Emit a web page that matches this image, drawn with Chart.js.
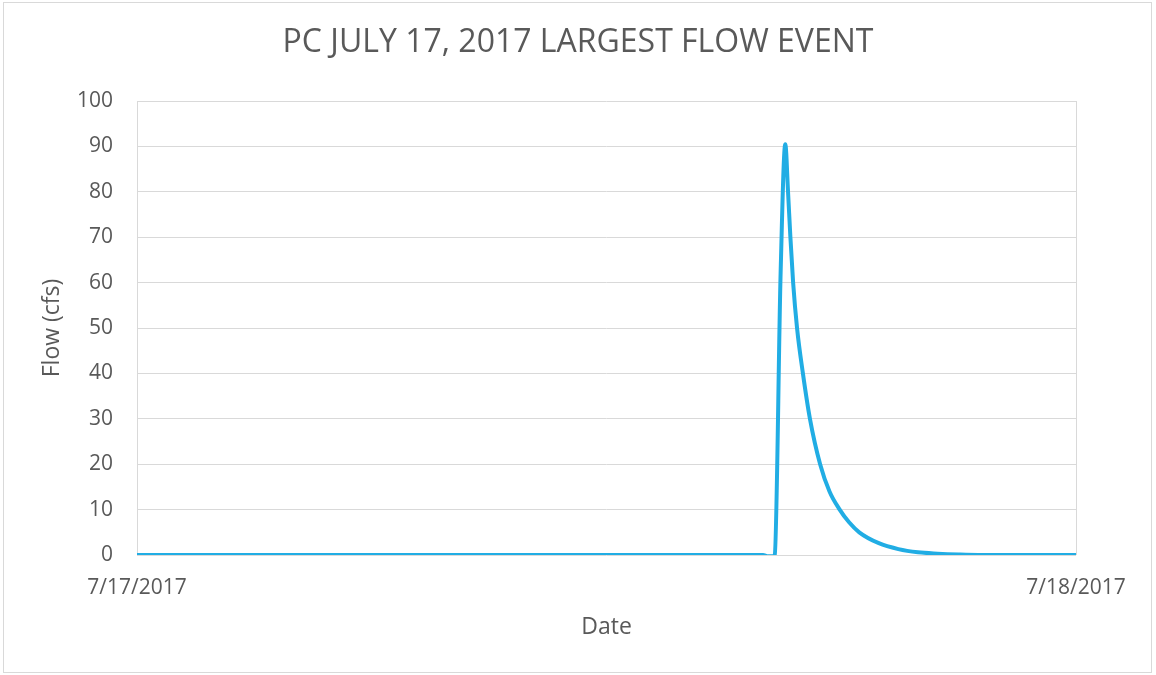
<!DOCTYPE html>
<html>
<head>
<meta charset="utf-8">
<script src="https://cdn.jsdelivr.net/npm/chart.js@4.4.0/dist/chart.umd.min.js"></script>
<style>
  html, body { margin: 0; padding: 0; background: #fff; }
  #wrap { position: absolute; left: 0; top: 0; width: 1156px; height: 675px; }
</style>
</head>
<body>
<div id="wrap"><canvas id="flow-chart" width="1156" height="675"></canvas></div>
<script>
// hours after midnight on 7/17/2017
var hours = [0, 16.0, 16.12, 16.26, 16.30, 16.45, 16.57, 16.64, 16.70, 16.77, 16.87, 17.02, 17.20, 17.46, 17.70, 17.96, 18.20, 18.46, 18.96, 19.46, 19.96, 20.46, 21.0, 21.5, 24];
// flow in cfs
var flows = [0, 0, -0.3, -0.3, 0, 62, 90.5, 80, 70, 60, 50, 40, 30, 20, 14, 10, 7.2, 5, 2.6, 1.3, 0.6, 0.3, 0.1, 0, 0];
var dateLabels = ['7/17/2017', '7/18/2017'];
var yTicks = [0, 10, 20, 30, 40, 50, 60, 70, 80, 90, 100];

var points = hours.map(function (h, i) { return { x: h, y: flows[i] }; });

// light border round the whole chart
var borderPlugin = {
  id: 'outerBorder',
  beforeDraw: function (chart) {
    var c = chart.ctx;
    c.save();
    c.fillStyle = '#fff';
    c.fillRect(0, 0, chart.width, chart.height);
    c.strokeStyle = '#d9d9d9';
    c.lineWidth = 1;
    c.strokeRect(3.5, 2.5, 1148, 670);
    c.restore();
  }
};

var txt = '#595959';
var ctx = document.getElementById('flow-chart').getContext('2d');
var chart = new Chart(ctx, {
  type: 'line',
  data: {
    datasets: [{
      label: 'Flow',
      data: points,
      borderColor: '#21ade4',
      borderWidth: 4,
      pointRadius: 0,
      cubicInterpolationMode: 'monotone',
      fill: false
    }]
  },
  options: {
    responsive: false,
    animation: false,
    layout: { padding: 0 },
    plugins: {
      legend: { display: false },
      tooltip: { enabled: false },
      title: {
        display: true,
        text: 'PC JULY 17, 2017 LARGEST FLOW EVENT',
        color: txt,
        font: { family: 'Open Sans', size: 32, weight: 'normal' },
        padding: { top: 24, bottom: 38.6 }
      }
    },
    scales: {
      x: {
        type: 'linear',
        min: 0,
        max: 24,
        afterBuildTicks: function (s) { s.ticks = [{ value: 0 }, { value: 24 }]; },
        afterFit: function (s) { s.height = 675 - 555; },
        ticks: {
          color: txt,
          font: { family: 'Open Sans', size: 21 },
          padding: 20,
          maxRotation: 0,
          callback: function (v) { return v === 0 ? dateLabels[0] : dateLabels[1]; }
        },
        grid: { color: '#d9d9d9', drawTicks: false },
        border: { display: false },
        title: {
          display: true,
          text: 'Date',
          color: txt,
          font: { family: 'Open Sans', size: 23 },
          padding: { top: 34, bottom: 34 }
        }
      },
      y: {
        min: 0,
        max: 100,
        afterBuildTicks: function (s) { s.ticks = yTicks.map(function (v) { return { value: v }; }); },
        afterFit: function (s) { s.width = 137; },
        ticks: {
          color: txt,
          font: { family: 'Open Sans', size: 21 },
          padding: 24
        },
        grid: { color: '#d9d9d9', drawTicks: false },
        border: { display: false },
        title: {
          display: true,
          text: 'Flow (cfs)',
          color: txt,
          font: { family: 'Open Sans', size: 23 },
          padding: { top: 39, bottom: 39 }
        }
      },
      // empty right margin so the title stays centred on the whole chart
      yRight: {
        position: 'right',
        display: true,
        grid: { display: false },
        ticks: { display: false },
        border: { display: false },
        afterFit: function (s) { s.width = 80; }
      }
    }
  },
  plugins: [borderPlugin]
});
</script>
</body>
</html>
